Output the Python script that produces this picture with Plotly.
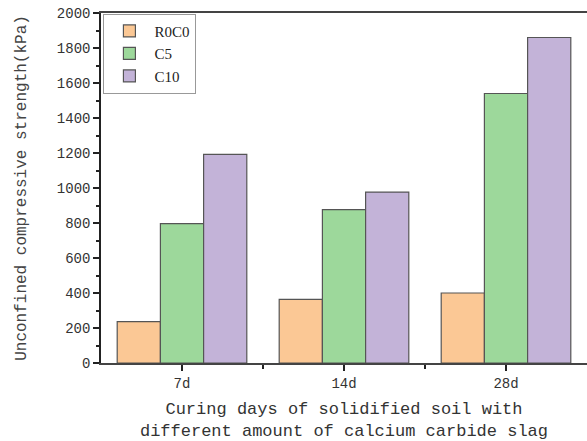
import plotly.graph_objects as go

categories = ["7d", "14d", "28d"]
series_names = ["R0C0", "C5", "C10"]
r0c0 = [236, 364, 400]
c5 = [796, 876, 1540]
c10 = [1192, 977, 1860]
colors = ["#FBC895", "#9DD89B", "#C3B3D8"]

xpos = list(range(len(categories)))

fig = go.Figure()
for name, vals, col in zip(series_names, [r0c0, c5, c10], colors):
    fig.add_trace(go.Bar(
        x=xpos, y=vals, name=name,
        marker=dict(color=col, line=dict(color="#555555", width=1.2)),
    ))

mono = "Liberation Mono"
fig.update_layout(
    width=587, height=441,
    margin=dict(l=101, r=0, t=13, b=78),
    plot_bgcolor="white", paper_bgcolor="white",
    barmode="group", bargap=0.2, bargroupgap=0,
    font=dict(family=mono, color="#333333", size=14),
    legend=dict(
        x=0.005, y=0.998, xanchor="left", yanchor="top",
        bordercolor="#999999", borderwidth=1, bgcolor="white",
        font=dict(family="Liberation Serif", size=15, color="#222222"),
        tracegroupgap=0, itemwidth=40,
    ),
    showlegend=True,
)
fig.update_xaxes(
    range=[-0.5, 2.5],
    tickvals=xpos, ticktext=categories,
    ticks="outside", ticklen=6, tickwidth=1.5, tickcolor="#222222",
    minor=dict(tickvals=[0.5, 1.5], ticks="outside", ticklen=4, tickwidth=1.5, tickcolor="#222222"),
    showline=True, linecolor="#444444", linewidth=1.5, mirror=True,
    showgrid=False, zeroline=False,
    tickfont=dict(family=mono, size=14, color="#333333"),
    title=dict(text="Curing days of solidified soil with<br>different amount of calcium carbide slag",
               font=dict(family=mono, size=17, color="#333333"), standoff=12),
)
fig.update_yaxes(
    range=[0, 2000], dtick=200,
    ticks="outside", ticklen=6, tickwidth=1.5, tickcolor="#222222",
    minor=dict(dtick=100, ticks="outside", ticklen=3, tickwidth=1.5, tickcolor="#222222"),
    showline=True, linecolor="#222222", linewidth=1.5,
    showgrid=False, zeroline=False,
    tickfont=dict(family=mono, size=14, color="#333333"),
    title=dict(text="Unconfined compressive strength(kPa)",
               font=dict(family=mono, size=16, color="#444444"), standoff=26),
)

fig.write_html("out.html")
